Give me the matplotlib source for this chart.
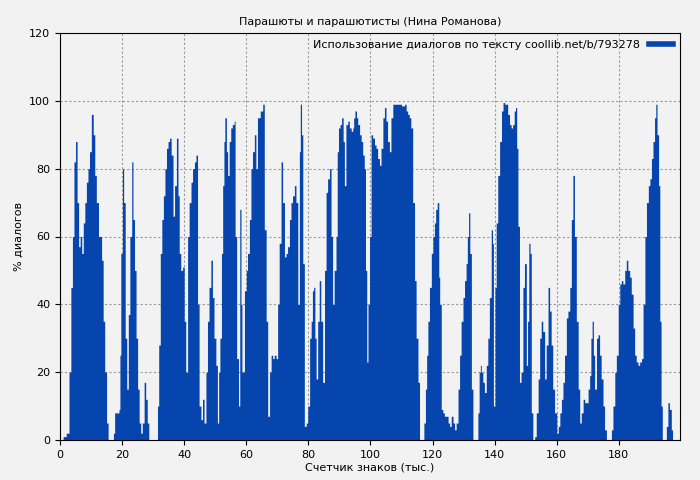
import matplotlib
matplotlib.use("Agg")
import matplotlib.pyplot as plt

xs = [0,1,2,2.9,3.5,4,4.5,5,5.5,6,6.5,7,7.5,8,8.5,9,9.5,10.1,10.7,11.2,11.7,12.4,13.4,13.9,14.4,15,15.5,17.2,17.6,19,19.3,19.6,20.1,20.5,21,21.5,22,22.5,23.1,23.5,24,24.5,25,25.5,26,26.5,27.1,27.6,28.1,28.6,31.4,31.8,32.3,32.8,33.3,33.8,34.3,34.8,35.3,35.8,36.4,36.9,37.5,38,38.4,38.9,39.5,40,40.5,41.1,41.6,42.2,42.7,43.3,43.8,44.3,44.8,45.4,45.9,46.4,47,47.5,48,48.6,49.1,49.6,50.2,50.7,51.1,51.5,52,52.4,52.8,53.1,53.6,54,54.5,55,55.5,56.1,56.4,56.9,57.5,57.9,58.3,58.6,59.4,60,60.4,61,61.5,62,62.6,63.1,63.6,64.5,65.3,65.8,66.4,66.9,67.5,68,68.5,69,69.6,70.1,70.6,71.2,71.7,72.3,72.8,73.3,73.9,74.4,74.9,75.5,76,76.6,77.1,77.4,77.8,78.2,78.7,79.3,79.8,80.4,80.9,81.3,81.7,82.1,82.5,83,83.5,84,84.6,85.2,85.7,86.2,86.8,87.3,87.8,88.3,88.9,89.3,89.7,90.2,90.7,91.2,91.6,92.1,92.7,93.2,93.8,94.3,94.6,95,95.5,95.9,96.5,97,97.5,98,98.4,98.8,99.2,99.7,100.2,100.7,101.3,101.8,102.3,102.9,103.4,104,104.5,105,105.5,106.1,106.6,107.2,108,109,110,111,111.5,112,112.5,113,113.6,114.2,114.7,115.3,115.8,117.2,117.7,118.1,118.5,119,119.6,120.1,120.6,121,121.5,122,122.3,122.8,123.3,123.8,124.4,125,125.5,126,126.6,127.1,127.6,128.2,128.7,129.2,129.8,130.3,130.8,131.2,131.6,132,132.5,133,134.6,135,135.4,135.7,136.2,136.7,137.3,137.8,138.3,138.9,139.3,139.6,140.1,140.5,141,141.6,142.2,142.7,143.2,143.7,144.2,144.8,145.3,145.8,146.3,146.7,147.1,147.5,148,148.5,149.1,149.6,150.2,150.6,151,151.4,151.8,152.3,152.9,153.4,154,154.5,155,155.5,156.1,156.6,157.2,157.7,158.2,158.7,159.3,160,160.5,161,161.5,162,162.5,163.1,163.6,164.2,164.7,165.2,165.7,166.3,166.9,167.4,167.9,168.5,169,169.6,170.1,170.6,171,171.4,171.8,172.2,172.8,173.3,173.8,174.3,174.9,175.4,176,177.6,178.1,178.7,179.2,179.8,180.3,180.8,181.3,181.9,182.4,182.9,183.5,184,184.6,185.1,185.6,186.2,186.7,187.3,187.8,188.4,188.9,189.5,190,190.5,191,191.5,191.9,192.3,192.8,193.2,193.6,194,195.3,195.8,196.3,196.9,197.3]
ys = [0,1,2,20,45,60,82,88,70,57,60,55,64,70,76,80,85,96,90,78,70,60,53,35,20,5,0,2,8,9,25,55,80,70,30,15,37,60,82,65,50,30,15,5,2,5,17,12,5,0,10,28,55,65,72,80,86,88,89,84,66,75,89,72,55,50,51,35,20,60,70,76,80,82,84,40,10,6,12,5,20,35,45,53,42,30,22,5,20,30,55,75,88,95,85,78,88,92,93,94,60,24,10,68,40,20,44,50,55,65,80,85,90,80,95,97,99,62,35,7,20,25,24,25,24,40,58,82,70,54,55,57,65,70,72,75,70,40,85,99,90,52,4,5,10,30,35,44,45,30,18,35,47,35,17,50,73,77,80,60,40,50,60,85,92,93,95,88,75,93,94,92,91,92,95,97,95,93,90,88,84,80,50,23,40,60,90,89,87,86,83,81,86,95,98,94,88,85,95,99,99,99,98.5,99,97,96,95,92,70,47,30,17,0,5,15,25,35,45,55,60,64,68,70,48,40,9,8,7,7,5,4,7,5,3,5,15,25,35,42,47,52,60,67,55,15,0,8,20,22,20,17,14,22,30,42,62,58,10,45,64,78,88,97,99.5,99,99,96,93,92,93,97,98,86,63,17,20,45,52,22,35,58,55,8,0,1,8,18,30,35,32,18,28,45,38,28,15,8,2,4,8,12,17,25,36,38,45,65,78,60,35,15,5,8,12,11,11,15,19,30,35,25,15,30,31,25,18,10,3,0,3,10,20,25,40,46,47,46,50,53,50,48,43,33,25,23,22,23,24,40,60,70,75,77,83,88,95,99,90,75,35,10,0,4,11,9,3,0]

title = "Парашюты и парашютисты (Нина Романова)"
legend_label = "Использование диалогов по тексту coollib.net/b/793278"
xticks = [0, 20, 40, 60, 80, 100, 120, 140, 160, 180]
yticks = [0, 20, 40, 60, 80, 100, 120]

bg = "#f2f2f2"
color = "#0645ad"
fig = plt.figure(figsize=(7, 4.8), dpi=100, facecolor=bg)
ax = fig.add_axes([60/700, 1-440/480, 620/700, 407/480], facecolor=bg)
ax.fill_between(xs, ys, step="post", color=color, linewidth=0, zorder=2)
ax.plot([], [], color=color, linewidth=4, label=legend_label)
ax.set_xlim(0, 199.7)
ax.set_ylim(0, 120)
ax.set_xticks(xticks)
ax.set_yticks(yticks)
ax.grid(True, color="#999999", linestyle=(0, (2, 2)), linewidth=0.8, zorder=1)
ax.set_axisbelow(True)
ax.tick_params(labelsize=8)
ax.set_title(title, fontsize=8)
ax.set_xlabel("Счетчик знаков (тыс.)", fontsize=8, labelpad=2)
ax.set_ylabel("% диалогов", fontsize=8)
leg = ax.legend(loc="upper right", fontsize=8, frameon=False, markerfirst=False,
                handlelength=2.2, borderaxespad=0.2)
fig.savefig("out.png", dpi=100, facecolor=bg)
